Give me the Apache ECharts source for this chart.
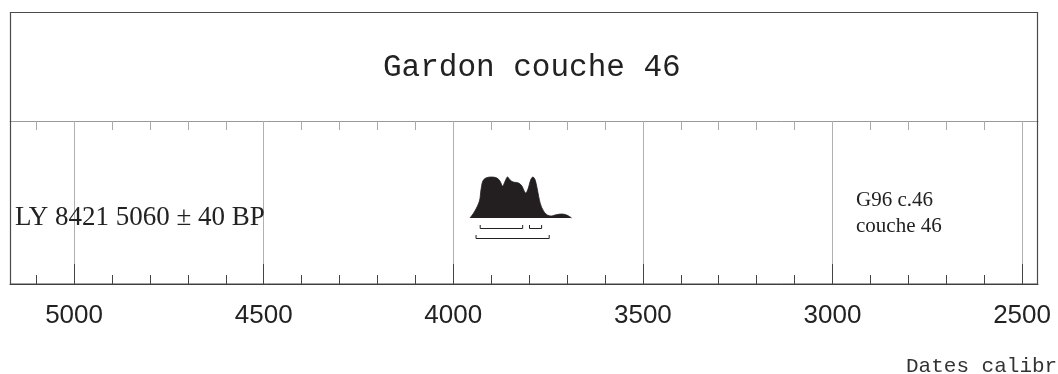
<!DOCTYPE html>
<html><head><meta charset="utf-8">
<script src="https://cdn.jsdelivr.net/npm/echarts@6/dist/echarts.min.js"></script>
<style>html,body{margin:0;padding:0;background:#fff}#c{width:1058px;height:374px}</style>
</head><body><div id="c"></div>
<script>
// ---- data ----
const years   = [3956,3943,3931,3927,3922,3914,3899,3885,3877,3870,3863,3857,3850,3842,3828,3819,3813,3809,3802,3796,3790,3784,3778,3771,3762,3752,3740,3732,3714,3701,3688];
const density = [0,7,17,28,37,40,41,40,37,32,37,41,38,36,35,32,27,25,30,38,41,38,28,15,7,3,2,3,4,3,0];
const sigma1 = [[3929,3817],[3799,3767]];   // 1-sigma ranges (cal BP)
const sigma2 = [[3940,3747]];               // 2-sigma range
const majorTicks = [5000,4500,4000,3500,3000,2500];
const minorTicks = [5100,5000,4900,4800,4700,4600,4500,4400,4300,4200,4100,4000,3900,3800,3700,3600,3500,3400,3300,3200,3100,3000,2900,2800,2700,2600,2500];
const axisMin = 2458, axisMax = 5169;
const chartTitle = 'Gardon couche 46';
const sampleLabel = 'LY 8421 5060 \u00b1 40 BP';
const siteLabel = ['G96 c.46', 'couche 46'];
const axisNote = 'Dates calibr\u00e9es';

const chart = echarts.init(document.getElementById('c'), null, {renderer: 'canvas'});
const GRID = {left: 10, right: 20, top: 121, bottom: 90};
const plotH = 374 - GRID.top - GRID.bottom;

function xAxisBase(extra) {
  const base = {
    type: 'value', min: axisMin, max: axisMax, inverse: true, gridIndex: 0,
    splitLine: {show: false}, axisLabel: {show: false},
    axisTick: {show: false}, axisLine: {show: false, onZero: false}
  };
  const o = Object.assign(base, extra);
  o.axisLine = Object.assign({onZero: false}, o.axisLine);
  return o;
}

const bracketData = sigma1.map(r => [r[0], r[1], 1]).concat(sigma2.map(r => [r[0], r[1], 2]));

chart.setOption({
  animation: false,
  backgroundColor: '#ffffff',
  title: [
    {text: chartTitle, left: 383, top: 52, padding: 0,
     textStyle: {fontFamily: 'Liberation Mono', fontWeight: 'normal', fontSize: 31, color: '#222', lineHeight: 31}},
    {text: sampleLabel, left: 15, top: 204, padding: 0,
     textStyle: {fontFamily: 'Liberation Serif', fontWeight: 'normal', fontSize: 27, color: '#222', lineHeight: 27}},
    {text: siteLabel.join('\n'), left: 856, top: 187, padding: 0,
     textStyle: {fontFamily: 'Liberation Serif', fontWeight: 'normal', fontSize: 21, color: '#222', lineHeight: 26}},
    {text: axisNote, left: 906, top: 356, padding: 0,
     textStyle: {fontFamily: 'Liberation Mono', fontWeight: 'normal', fontSize: 21, color: '#333', lineHeight: 21}}
  ],
  grid: GRID,
  xAxis: [
    // bottom axis: line, minor ticks, labels
    xAxisBase({position: 'bottom',
      axisLine: {show: true, lineStyle: {color: '#333', width: 1}},
      axisTick: {show: true, inside: true, length: 9, customValues: minorTicks, lineStyle: {color: '#444', width: 1}},
      axisLabel: {show: true, customValues: majorTicks, margin: 19, formatter: v => String(v),
        fontFamily: 'Liberation Sans', fontSize: 26, color: '#222'}
    }),
    // top axis: divider line and minor ticks
    xAxisBase({position: 'top',
      axisLine: {show: true, lineStyle: {color: '#999', width: 1}},
      axisTick: {show: true, inside: true, length: 9, customValues: minorTicks, lineStyle: {color: '#aaa', width: 1}}
    }),
    // major grid lines (full height)
    xAxisBase({position: 'bottom',
      axisTick: {show: true, inside: true, length: plotH, customValues: majorTicks, lineStyle: {color: '#b0b0b0', width: 1}}
    }),
    // darker major tick stubs on bottom
    xAxisBase({position: 'bottom',
      axisTick: {show: true, inside: true, length: 20, customValues: majorTicks, lineStyle: {color: '#444', width: 1}}
    })
  ],
  yAxis: {type: 'value', min: -66, max: 97, show: false, splitLine: {show: false}},
  graphic: [{
    type: 'rect', z: 100, silent: true,
    shape: {x: 10.5, y: 12.5, width: 1027, height: 271.5},
    style: {fill: 'none', stroke: '#4a4a4a', lineWidth: 1.2}
  }],
  series: [
    {type: 'line', xAxisIndex: 0, yAxisIndex: 0,
     data: years.map((y, i) => [y, density[i]]),
     smooth: 0.35, symbol: 'none',
     lineStyle: {color: '#231f20', width: 0.8},
     areaStyle: {color: '#231f20', opacity: 1, origin: 0}},
    {type: 'custom', xAxisIndex: 0, yAxisIndex: 0,
     data: bracketData,
     renderItem: function (params, api) {
       const a = api.coord([api.value(0), 0]);
       const b = api.coord([api.value(1), 0]);
       const off = api.value(2) === 1 ? 10 : 19.5;
       const y = Math.round(a[1] + off) + 0.5;
       const t = 3.5;
       return {type: 'polyline',
         shape: {points: [[a[0], y - t], [a[0], y], [b[0], y], [b[0], y - t]]},
         style: {stroke: '#231f20', lineWidth: 1, fill: 'none'}};
     }}
  ]
});
</script></body></html>
